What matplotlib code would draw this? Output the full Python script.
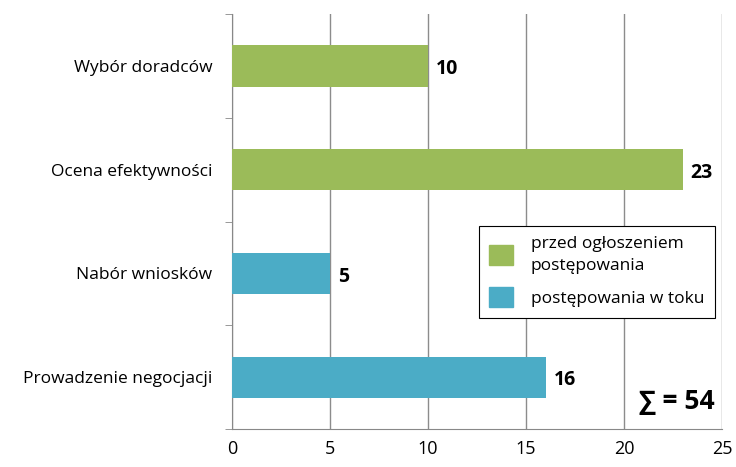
import matplotlib.pyplot as plt
from matplotlib.patches import Patch

# dane
kategorie = ["Wybór doradców", "Ocena efektywności", "Nabór wniosków", "Prowadzenie negocjacji"]
wartosci = [10, 23, 5, 16]
grupy = ["przed", "przed", "tok", "tok"]
kolory = {"przed": "#9BBB59", "tok": "#4BACC6"}
legenda = {"przed": "przed ogłoszeniem\npostępowania", "tok": "postępowania w toku"}
suma = sum(wartosci)

plt.rcParams['font.family'] = ['Open Sans', 'DejaVu Sans']

fig = plt.figure(figsize=(7.36, 4.67), dpi=100)
ax = fig.add_axes([0.315, 0.081, 0.666, 0.889])

pozycje = list(range(len(kategorie)))
ax.barh(pozycje, wartosci, height=0.4, color=[kolory[g] for g in grupy], zorder=3)

for y, v in zip(pozycje, wartosci):
    ax.text(v + 0.4, y + 0.03, str(v), va='center', ha='left', fontsize=14, fontweight='bold', zorder=4)

ax.set_xlim(0, 25)
ax.set_ylim(3.5, -0.5)
ax.set_xticks([0, 5, 10, 15, 20, 25])
ax.set_yticks(pozycje)
ax.set_yticklabels(kategorie, fontsize=12.5)
ax.set_yticks([-0.5, 0.5, 1.5, 2.5, 3.5], minor=True)
ax.tick_params(axis='y', which='major', length=0, pad=14)
ax.tick_params(axis='y', which='minor', length=5, color='#888888', direction='out')
ax.tick_params(axis='x', length=0, labelsize=13, pad=8)

ax.grid(axis='x', color='#8C8C8C', linewidth=1, zorder=0)
for s in ['top', 'right']:
    ax.spines[s].set_visible(False)
ax.spines['left'].set_color('#888888')
ax.spines['bottom'].set_color('#888888')

uchwyty = [Patch(color=kolory[k]) for k in ["przed", "tok"]]
leg = ax.legend(uchwyty, [legenda[k] for k in ["przed", "tok"]],
                loc='upper left', bbox_to_anchor=(0.486, 0.511), fontsize=12.5,
                frameon=True, fancybox=False, edgecolor='black', framealpha=1,
                handlelength=1.4, handleheight=1.4, labelspacing=0.8, borderpad=0.6,
                handletextpad=1.0)
for t in leg.get_texts():
    t.set_linespacing(1.45)
leg.get_frame().set_linewidth(0.8)
leg.set_zorder(5)

ax.text(0.985, 0.035, "∑ = %d" % suma, transform=ax.transAxes, ha='right', va='bottom',
        fontsize=19, fontweight='bold', zorder=6)

fig.savefig("out.png", dpi=100)
